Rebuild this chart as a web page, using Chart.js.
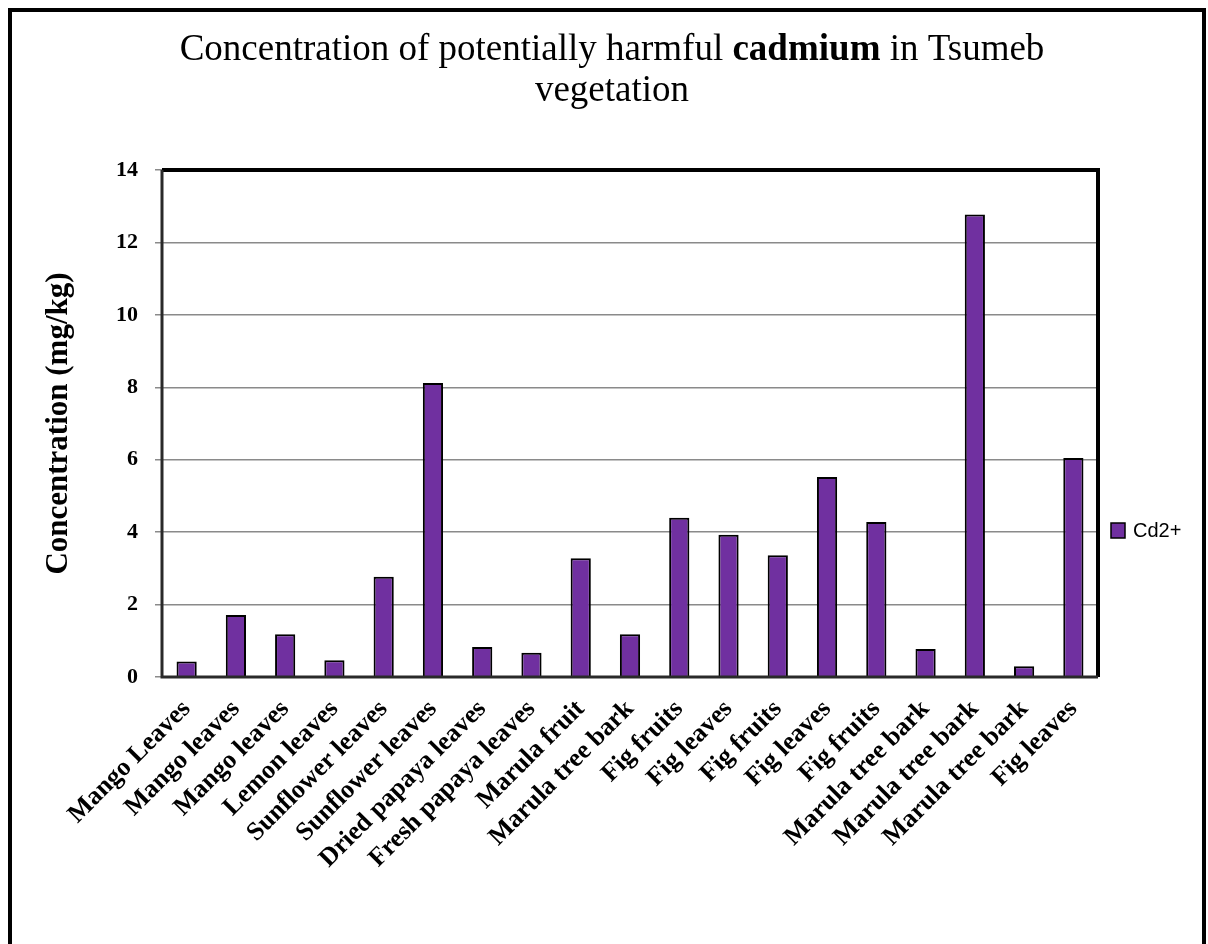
<!DOCTYPE html>
<html>
<head>
<meta charset="utf-8">
<title>Cadmium in Tsumeb vegetation</title>
<script src="https://cdn.jsdelivr.net/npm/chart.js@4/dist/chart.umd.min.js"></script>
<style>
  html, body { margin: 0; padding: 0; background: #ffffff; }
  #wrap { width: 1208px; height: 944px; position: relative; }
</style>
</head>
<body>
<div id="wrap"><canvas id="chart" width="1208" height="944"></canvas></div>
<script>
// Sample types, in sampling order
const categories = [
  'Mango Leaves', 'Mango leaves', 'Mango leaves', 'Lemon leaves',
  'Sunflower leaves', 'Sunflower leaves', 'Dried papaya leaves',
  'Fresh papaya leaves', 'Marula fruit', 'Marula tree bark',
  'Fig fruits', 'Fig leaves', 'Fig fruits', 'Fig leaves', 'Fig fruits',
  'Marula tree bark', 'Marula tree bark', 'Marula tree bark', 'Fig leaves'
];

// Cd2+ concentration, mg/kg
const cadmium = [
  0.43, 1.71, 1.18, 0.46, 2.77, 8.12, 0.83, 0.67, 3.28, 1.18,
  4.40, 3.93, 3.36, 5.52, 4.28, 0.77, 12.77, 0.30, 6.05
];

const seriesName = 'Cd2+';
const yTicks = [0, 2, 4, 6, 8, 10, 12, 14];

const SERIF = '"Liberation Serif", "Times New Roman", serif';
const SANS = '"Liberation Sans", Arial, sans-serif';

// Outer frame around the whole figure
const framePlugin = {
  id: 'frame',
  beforeDraw(chart) {
    const ctx = chart.ctx;
    ctx.save();
    ctx.fillStyle = '#ffffff';
    ctx.fillRect(0, 0, chart.width, chart.height);
    ctx.strokeStyle = '#000000';
    ctx.lineWidth = 4;
    ctx.beginPath();
    ctx.moveTo(10, chart.height + 5);
    ctx.lineTo(10, 10);
    ctx.lineTo(chart.width - 4, 10);
    ctx.lineTo(chart.width - 4, chart.height + 5);
    ctx.stroke();
    ctx.restore();
  }
};

// Two-line title with the element name in bold
const titlePlugin = {
  id: 'richTitle',
  afterDraw(chart) {
    const ctx = chart.ctx;
    const cx = 612;
    const size = 37;
    const parts = [
      { t: 'Concentration of potentially harmful ', f: size + 'px ' + SERIF },
      { t: 'cadmium', f: 'bold ' + size + 'px ' + SERIF },
      { t: ' in Tsumeb', f: size + 'px ' + SERIF }
    ];
    ctx.save();
    ctx.fillStyle = '#000000';
    ctx.textBaseline = 'alphabetic';
    ctx.textAlign = 'left';
    let total = 0;
    parts.forEach(p => { ctx.font = p.f; p.w = ctx.measureText(p.t).width; total += p.w; });
    let x = cx - total / 2;
    parts.forEach(p => { ctx.font = p.f; ctx.fillText(p.t, x, 60); x += p.w; });
    ctx.font = size + 'px ' + SERIF;
    ctx.textAlign = 'center';
    ctx.fillText('vegetation', cx, 101);
    ctx.restore();
  }
};

// Plot-area border drawn over the bars
const plotBorderPlugin = {
  id: 'plotBorder',
  afterDatasetsDraw(chart) {
    const { ctx, chartArea: a } = chart;
    ctx.save();
    ctx.lineWidth = 4;
    ctx.strokeStyle = '#000000';
    ctx.beginPath();
    ctx.moveTo(a.left, a.top);
    ctx.lineTo(a.right, a.top);
    ctx.lineTo(a.right, a.bottom);
    ctx.stroke();
    ctx.lineWidth = 3;
    ctx.strokeStyle = '#2a2a2a';
    ctx.beginPath();
    ctx.moveTo(a.left, a.top);
    ctx.lineTo(a.left, a.bottom);
    ctx.lineTo(a.right, a.bottom);
    ctx.stroke();
    ctx.restore();
  }
};

// Legend entry on the right of the plot
const sideLegendPlugin = {
  id: 'sideLegend',
  afterDraw(chart) {
    const ctx = chart.ctx;
    const ds = chart.data.datasets[0];
    const a = chart.chartArea;
    const bx = a.right + 13, by = 523;
    ctx.save();
    ctx.fillStyle = ds.backgroundColor;
    ctx.fillRect(bx, by, 14, 15);
    ctx.lineWidth = 1.5;
    ctx.strokeStyle = '#000000';
    ctx.strokeRect(bx, by, 14, 15);
    ctx.fillStyle = '#000000';
    ctx.font = '20px ' + SANS;
    ctx.textBaseline = 'middle';
    ctx.textAlign = 'left';
    ctx.fillText(ds.label, bx + 22, by + 8);
    ctx.restore();
  }
};

new Chart(document.getElementById('chart'), {
  type: 'bar',
  data: {
    labels: categories,
    datasets: [{
      label: seriesName,
      data: cadmium,
      backgroundColor: '#7030A0',
      borderColor: '#000000',
      borderWidth: 2,
      barPercentage: 0.41,
      categoryPercentage: 1.0
    }]
  },
  options: {
    responsive: false,
    animation: false,
    layout: { padding: { left: 0, top: 170, right: 110, bottom: 0 } },
    plugins: {
      legend: { display: false },
      title: { display: false },
      tooltip: { enabled: false }
    },
    scales: {
      x: {
        grid: { display: false },
        border: { display: false },
        ticks: {
          autoSkip: false,
          maxRotation: 45,
          minRotation: 45,
          padding: 9,
          color: '#000000',
          font: { family: SERIF, size: 26, weight: 'bold' }
        },
        afterFit(scale) { scale.height = 267; }
      },
      y: {
        min: 0,
        max: 14,
        afterBuildTicks(scale) { scale.ticks = yTicks.map(v => ({ value: v })); },
        grid: {
          color: '#8a8a8a',
          lineWidth: 1.5,
          drawTicks: true,
          tickLength: 7,
          tickColor: '#8a8a8a'
        },
        border: { display: false },
        ticks: {
          padding: 17,
          color: '#000000',
          font: { family: SERIF, size: 22, weight: 'bold' }
        },
        title: {
          display: true,
          text: 'Concentration (mg/kg)',
          color: '#000000',
          font: { family: SERIF, size: 31, weight: 'bold' },
          padding: { top: 40, bottom: 0 }
        },
        afterFit(scale) { scale.width = 162; }
      }
    }
  },
  plugins: [framePlugin, titlePlugin, plotBorderPlugin, sideLegendPlugin]
});
</script>
</body>
</html>
